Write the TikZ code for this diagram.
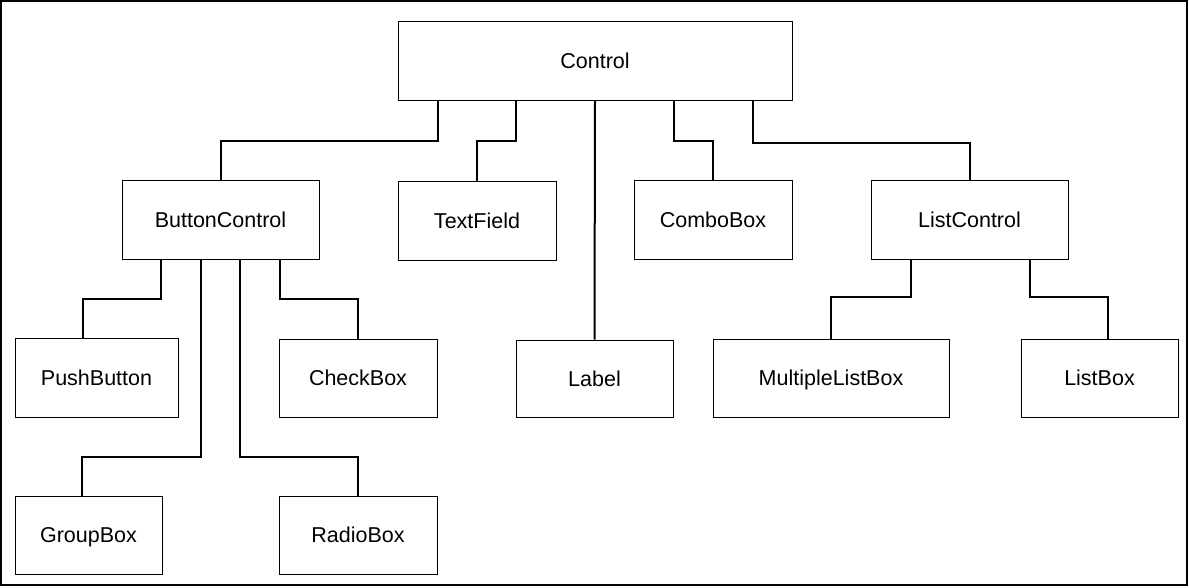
\documentclass[tikz,border=0pt]{standalone}
\usepackage{fontspec}
\setmainfont{Liberation Sans}
\begin{document}
\begin{tikzpicture}[x=1pt,y=-1pt,
  box/.style={draw=black,line width=1pt,fill=white,inner sep=0pt,text depth=0pt,font=\fontsize{21.5}{24}\selectfont},
  conn/.style={draw=black,line width=2pt}]
\useasboundingbox (0,0) rectangle (1189,587);
\draw[line width=2pt] (1,1) rectangle (1187,585);
% nodes
\node[box,minimum width=394pt,minimum height=79pt] (ctrl) at (595,60.5) {Control};
\node[box,minimum width=197pt,minimum height=79pt] (bc) at (220.5,219.5) {ButtonControl};
\node[box,minimum width=158pt,minimum height=79pt] (tf) at (477,220.5) {TextField};
\node[box,minimum width=158pt,minimum height=79pt] (cb) at (713,219.5) {ComboBox};
\node[box,minimum width=197pt,minimum height=79pt] (lc) at (969.5,219.5) {ListControl};
\node[box,minimum width=163pt,minimum height=79pt] (pb) at (96.5,377.5) {PushButton};
\node[box,minimum width=158pt,minimum height=78pt] (chk) at (358,378) {CheckBox};
\node[box,minimum width=157pt,minimum height=77pt] (lab) at (594.5,378.5) {Label};
\node[box,minimum width=236pt,minimum height=78pt] (mlb) at (831,378) {MultipleListBox};
\node[box,minimum width=157pt,minimum height=78pt] (lb) at (1099.5,378) {ListBox};
\node[box,minimum width=147pt,minimum height=78pt] (gb) at (88.5,535) {GroupBox};
\node[box,minimum width=158pt,minimum height=78pt] (rb) at (358,535) {RadioBox};
% connectors from Control
\draw[conn] ([xshift=40pt]ctrl.south west) -- ++(0,40) -| (bc.north);
\draw[conn] ([xshift=118pt]ctrl.south west) -- ++(0,40) -| (tf.north);
\draw[conn] (ctrl.south) -- (lab.north);
\draw[conn] ([xshift=276pt]ctrl.south west) -- ++(0,40) -| (cb.north);
\draw[conn] ([xshift=355pt]ctrl.south west) -- ++(0,42) -| (lc.north);
% connectors from ButtonControl
\draw[conn] ([xshift=39pt]bc.south west) -- ++(0,39) -| ([xshift=68pt]pb.north west);
\draw[conn] ([xshift=79pt]bc.south west) -- ++(0,197) -| ([xshift=67pt]gb.north west);
\draw[conn] ([xshift=118pt]bc.south west) -- ++(0,197) -| (rb.north);
\draw[conn] ([xshift=158pt]bc.south west) -- ++(0,39) -| (chk.north);
% connectors from ListControl
\draw[conn] ([xshift=40pt]lc.south west) -- ++(0,37) -| (mlb.north);
\draw[conn] ([xshift=159pt]lc.south west) -- ++(0,37) -| ([xshift=87pt]lb.north west);
\end{tikzpicture}
\end{document}
